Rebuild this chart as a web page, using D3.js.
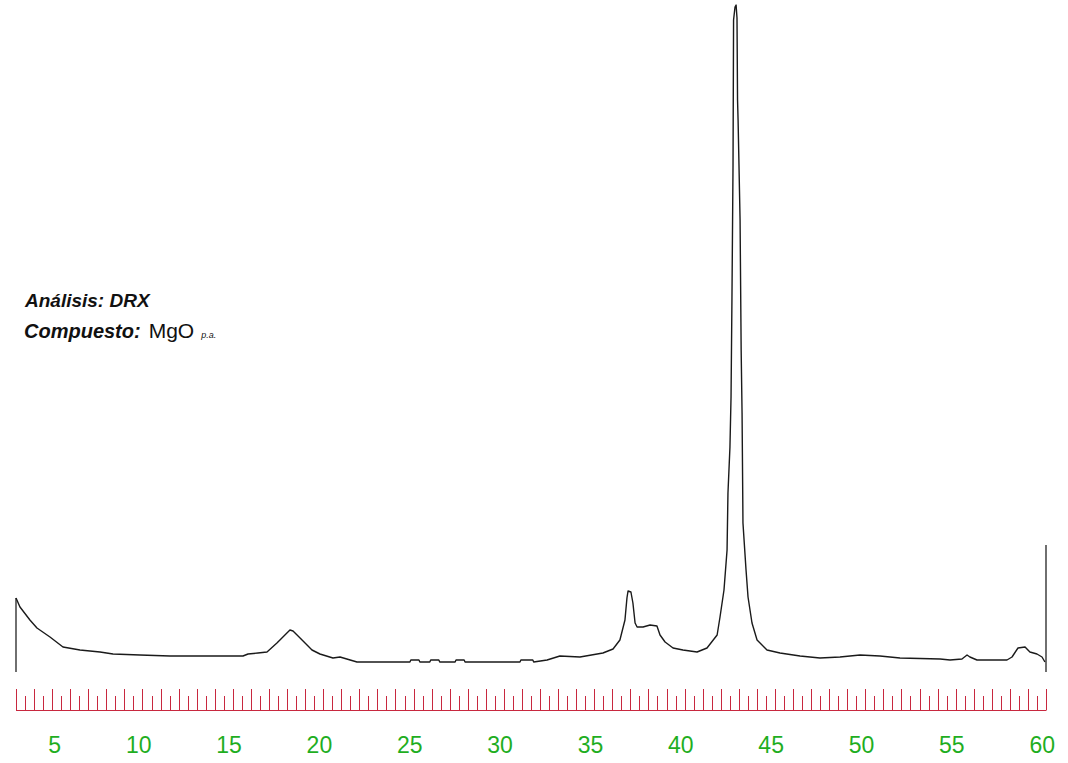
<!DOCTYPE html>
<html><head><meta charset="utf-8">
<script src="https://cdn.jsdelivr.net/npm/d3@7"></script>
<style>body{margin:0;background:#fff;}svg{display:block;}</style>
</head><body>
<script>
// 2-theta (degrees) and intensity (arbitrary units)
const twoTheta = [3.00,3.22,3.77,4.16,4.88,5.60,6.54,7.65,8.37,9.86,11.52,15.56,15.84,16.39,16.89,17.44,18.16,18.33,18.83,19.38,19.82,20.54,20.93,21.87,
  24.80,24.85,25.30,25.35,25.90,25.95,26.40,26.45,27.30,27.35,27.80,27.85,28.51,30.89,30.94,31.60,31.65,32.39,33.10,34.21,35.48,36.04,36.42,36.70,36.81,36.87,37.03,37.14,37.26,37.37,37.70,38.09,38.47,38.64,38.92,39.36,39.91,40.69,41.24,41.80,41.96,42.18,42.35,42.40,42.51,42.57,42.62,42.68,42.71,42.79,42.85,42.90,42.93,42.96,43.07,43.13,43.18,43.23,43.40,43.51,43.73,44.01,44.56,45.28,46.39,47.49,48.60,49.71,50.81,51.92,54.14,54.69,55.35,55.63,55.79,56.18,57.84,58.12,58.45,58.84,59.11,59.50,59.78,59.94];
const intensity = [74,65,52,44,35,25,22,20,18,17,16,16,18,19,20,29,42,41,32,22,18,14,15,10,
  10,12,12,10,10,12,12,10,10,12,12,10,10,10,12,12,10,12,16,15,19,23,32,52,74,81,80,69,49,45,45,47,46,37,30,24,22,20,24,37,55,82,122,179,225,275,372,507,652,665,667,654,572,552,452,322,259,149,102,75,49,32,22,19,16,14,15,17,16,14,13,12,13,17,15,12,12,15,24,25,20,18,15,10];
const labelValues = [5,10,15,20,25,30,35,40,45,50,55,60];
const edgeMarks = [{t:3, top:74},{t:60, top:127}];
const titleLine1 = "Análisis: DRX";
const titleLine2a = "Compuesto:";
const titleLine2b = "MgO";
const titleLine2c = "p.a.";

const W = 1068, H = 763;
const svg = d3.select("body").append("svg").attr("width", W).attr("height", H);

const x = d3.scaleLinear().domain([3, 60]).range([16, 1046]);
const y = d3.scaleLinear().domain([0, 667]).range([672, 5]);

const data = twoTheta.map((t,i)=>({t, v: intensity[i]}));

// edge vertical lines
svg.selectAll("line.edge").data(edgeMarks).join("line")
  .attr("class","edge")
  .attr("x1", d=>x(d.t)).attr("x2", d=>x(d.t))
  .attr("y1", d=>y(d.top)).attr("y2", y(0))
  .attr("stroke", "#222").attr("stroke-width", 1.3);

// diffractogram
svg.append("path").datum(data)
  .attr("fill","none").attr("stroke","#1a1a1a").attr("stroke-width",1.4)
  .attr("stroke-linejoin","round")
  .attr("d", d3.line().x(d=>x(d.t)).y(d=>y(d.v)));

// ruler axis
const ruler = "#c8283f";
const tickVals = d3.range(3, 60.001, 0.5);
const g = svg.append("g");
g.append("line").attr("x1", x(3)).attr("x2", x(60)).attr("y1", 710.5).attr("y2", 710.5)
  .attr("stroke", ruler).attr("stroke-width", 1.2);
g.selectAll("line.tk").data(tickVals).join("line").attr("class","tk")
  .attr("x1", d=>Math.round(x(d))+0.5).attr("x2", d=>Math.round(x(d))+0.5)
  .attr("y1", d=> Number.isInteger(d) ? 689 : 696).attr("y2", 710.5)
  .attr("stroke", ruler).attr("stroke-width", 1);

// tick labels
svg.selectAll("text.lbl").data(labelValues).join("text").attr("class","lbl")
  .attr("x", d=>x(d)+9).attr("y", 753)
  .attr("text-anchor","end")
  .attr("font-family","'Liberation Sans', Arial, sans-serif")
  .attr("font-size", 23).attr("fill", "#1fae1f")
  .text(d=>d);

// annotations
const f = "'Liberation Sans', Arial, sans-serif";
svg.append("text").attr("x",25).attr("y",307).attr("font-family",f).attr("font-size",19)
  .attr("font-weight","bold").attr("font-style","italic").attr("fill","#111").text(titleLine1);
const t2 = svg.append("text").attr("x",24).attr("y",338).attr("font-family",f).attr("fill","#111");
t2.append("tspan").attr("font-size",20).attr("font-weight","bold").attr("font-style","italic").text(titleLine2a);
t2.append("tspan").attr("font-size",21).attr("dx",8).text(titleLine2b);
t2.append("tspan").attr("font-size",9).attr("font-style","italic").attr("dx",7).text(titleLine2c);
</script>
</body></html>
